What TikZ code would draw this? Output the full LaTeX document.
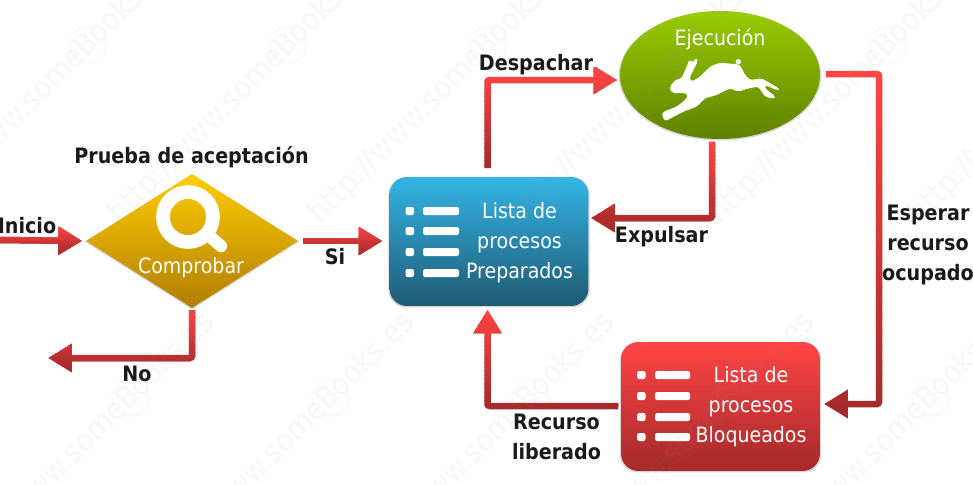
\documentclass[tikz,border=0pt]{standalone}
\usepackage{fontspec}
\setmainfont{DejaVu Sans}[FakeStretch=0.9]
\usetikzlibrary{arrows.meta,shapes.geometric,shadows}
\definecolor{arrowlight}{HTML}{FF4444}
\definecolor{arrowdark}{HTML}{A52A2A}
\definecolor{inklabel}{HTML}{1A1A1A}
\definecolor{goldtop}{HTML}{FFCC00}
\definecolor{goldbottom}{HTML}{B07D05}
\definecolor{greentop}{HTML}{99CC00}
\definecolor{greenbottom}{HTML}{5F8000}
\definecolor{bluetop}{HTML}{33B5E5}
\definecolor{bluebottom}{HTML}{1F5A73}
\tikzset{
	softshadow/.style={drop shadow={shadow xshift=0pt,shadow yshift=-.4pt,shadow scale=1.012,opacity=.16,fill=black}},
	listbox/.style={draw=none,shape=rectangle,rounded corners=10pt,minimum width=3.98cm,minimum height=2.58cm,inner sep=0pt,softshadow},
	boxtext/.style={text=white,align=center,font=\fontsize{12}{17}\selectfont},
	steplabel/.style={text=inklabel,align=center,inner sep=0pt,font=\fontsize{12.1}{17}\selectfont\bfseries},
	conn/.style={line width=3.7pt,rounded corners=1.2pt,-{Triangle[length=13.6pt,width=15.5pt]}},
	listmark/.style={fill=white,rounded corners=1.2pt},
	watermark/.style={text=black!40,opacity=.08,rotate=45,font=\fontsize{17.5}{17.5}\selectfont},
}
\newcommand{\redconn}[3]{%
	\pgfmathsetmacro{\connstep}{(#2-#1)/24}
	\foreach \band in {0,...,23} {
		\pgfmathsetmacro{\bandpct}{\band*100/23}
		\begin{scope}
			\clip (0,#1+\band*\connstep) rectangle (973,#1+\band*\connstep+\connstep+.4);
			\draw[conn,color=arrowdark!\bandpct!arrowlight] #3;
		\end{scope}
	}
}
\begin{document}
\begin{tikzpicture}[x=.02cm,y=-.02cm]
	\useasboundingbox (0,0) rectangle (973,484);
	\node[diamond,top color=goldtop,bottom color=goldbottom,minimum width=4.24cm,minimum height=2.68cm,inner sep=0pt,softshadow] (comprobar) at (192,241) {};
	\node[ellipse,top color=greentop,bottom color=greenbottom,minimum width=4cm,minimum height=2.56cm,inner sep=0pt,softshadow] (ejecucion) at (720,75) {};
	\node[listbox,top color=bluetop,bottom color=bluebottom] (preparados) at (489,241.5) {};
	\node[listbox,top color=arrowlight,bottom color=arrowdark] (bloqueados) at (720.5,406.5) {};
	\coordinate (inicio) at (0,240);
	\coordinate (rechazo) at (48,358);
	\coordinate (salida) at (820,74);
	\coordinate (despacho) at (620,80);
	\coordinate (retorno) at (590,218);
	\coordinate (espera) at (824,404);
	\coordinate (liberado) at (621,406);
	\coordinate (preparadosabajo) at (487.5,306);
	\coordinate (preparadosarriba) at (487.5,177);
	\coordinate (ejecucionabajo) at (712,139);
	\redconn{226}{255}{[shorten >=2pt] (inicio) -- (comprobar.west)}
	\redconn{307}{372}{[shorten <=1pt] (comprobar.south) |- (rechazo)}
	\redconn{226}{255}{[shorten <=2.4pt,shorten >=3.8pt] (comprobar.east) -- (preparados.west |- comprobar.east)}
	\redconn{67}{169}{[shorten <=5pt,shorten >=1.5pt] (preparadosarriba) |- (despacho)}
	\redconn{141}{232}{[shorten <=1.5pt,shorten >=.5pt] (ejecucionabajo) |- (retorno)}
	\redconn{70}{418}{[shorten <=3.4pt] (salida) -| (879,240) |- (espera)}
	\redconn{308}{409}{[shorten <=1.5pt,shorten >=2pt] (liberado) -| (preparadosabajo)}
	\draw[white,line width=7.8pt] (188,217) circle (25);
	\draw[white,line width=7pt,line cap=round] (208,235) -- (221,246);
	\begin{scope}[shift={(650,50)},x=.00667cm,y=-.00667cm]
		\fill[white,rounded corners=1.5pt] (60,110) -- (75,90) -- (95,85) -- (110,50) -- (118,28) -- (128,38) -- (140,22) -- (143,35) -- (130,60) -- (118,85) -- (125,95) -- (150,80) -- (180,50) -- (210,38) -- (250,42) -- (262,42) -- (272,48) -- (285,75) -- (300,90) -- (335,85) -- (387,115) -- (385,122) -- (345,105) -- (345,115) -- (377,140) -- (370,146) -- (345,140) -- (325,110) -- (295,115) -- (265,125) -- (240,115) -- (200,135) -- (165,145) -- (140,170) -- (100,185) -- (45,214) -- (35,195) -- (40,185) -- (80,170) -- (105,150) -- (115,135) -- (100,128) -- (70,130) -- (60,120) -- cycle;
		\fill[white] (265,35) circle (8);
	\end{scope}
	\foreach \row in {211,231,252,273} {
		\fill[listmark] (405.5,\row-4) rectangle (414,\row+4);
		\fill[listmark] (423,\row-4) rectangle (459,\row+4);
	}
	\foreach \row in {375,396,417,437} {
		\fill[listmark] (637,\row-4) rectangle (645.5,\row+4);
		\fill[listmark] (655,\row-4) rectangle (690,\row+4);
	}
	\node[boxtext] (comprobartxt) at (191,268) {Comprobar};
	\node[boxtext] (ejecuciontxt) at (720,39) {Ejecución};
	\node[boxtext] (preparadostxt) at (519.5,242.5) {Lista de\\procesos\\Preparados};
	\node[boxtext] (bloqueadostxt) at (751,406.5) {Lista de\\procesos\\Bloqueados};
	\node[steplabel] (prueba) at (191.5,157) {Prueba de aceptación};
	\node[steplabel] (iniciotxt) at (27,226) {Inicio};
	\node[steplabel] (notxt) at (137,374) {No};
	\node[steplabel] (sitxt) at (335,257) {Si};
	\node[steplabel] (despachartxt) at (536,65) {Despachar};
	\node[steplabel] (expulsartxt) at (661.5,237) {Expulsar};
	\node[steplabel] (esperartxt) at (928,245) {Esperar\\recurso\\ocupado};
	\node[steplabel] (recursotxt) at (556.5,437) {Recurso\\liberado};
	\foreach \col in {-159,41,241,441,641,841,1041} {
		\node[watermark] at (\col,92) {http://www.someBooks.es};
		\draw[white!60!black,opacity=.08,line width=.7pt] (\col+47,45) circle (18);
	}
	\foreach \col in {83,283,483,683,883,1083} {
		\node[watermark] at (\col,445) {http://www.someBooks.es};
		\draw[white!60!black,opacity=.08,line width=.7pt] (\col+47,398) circle (18);
	}
\end{tikzpicture}
\end{document}
